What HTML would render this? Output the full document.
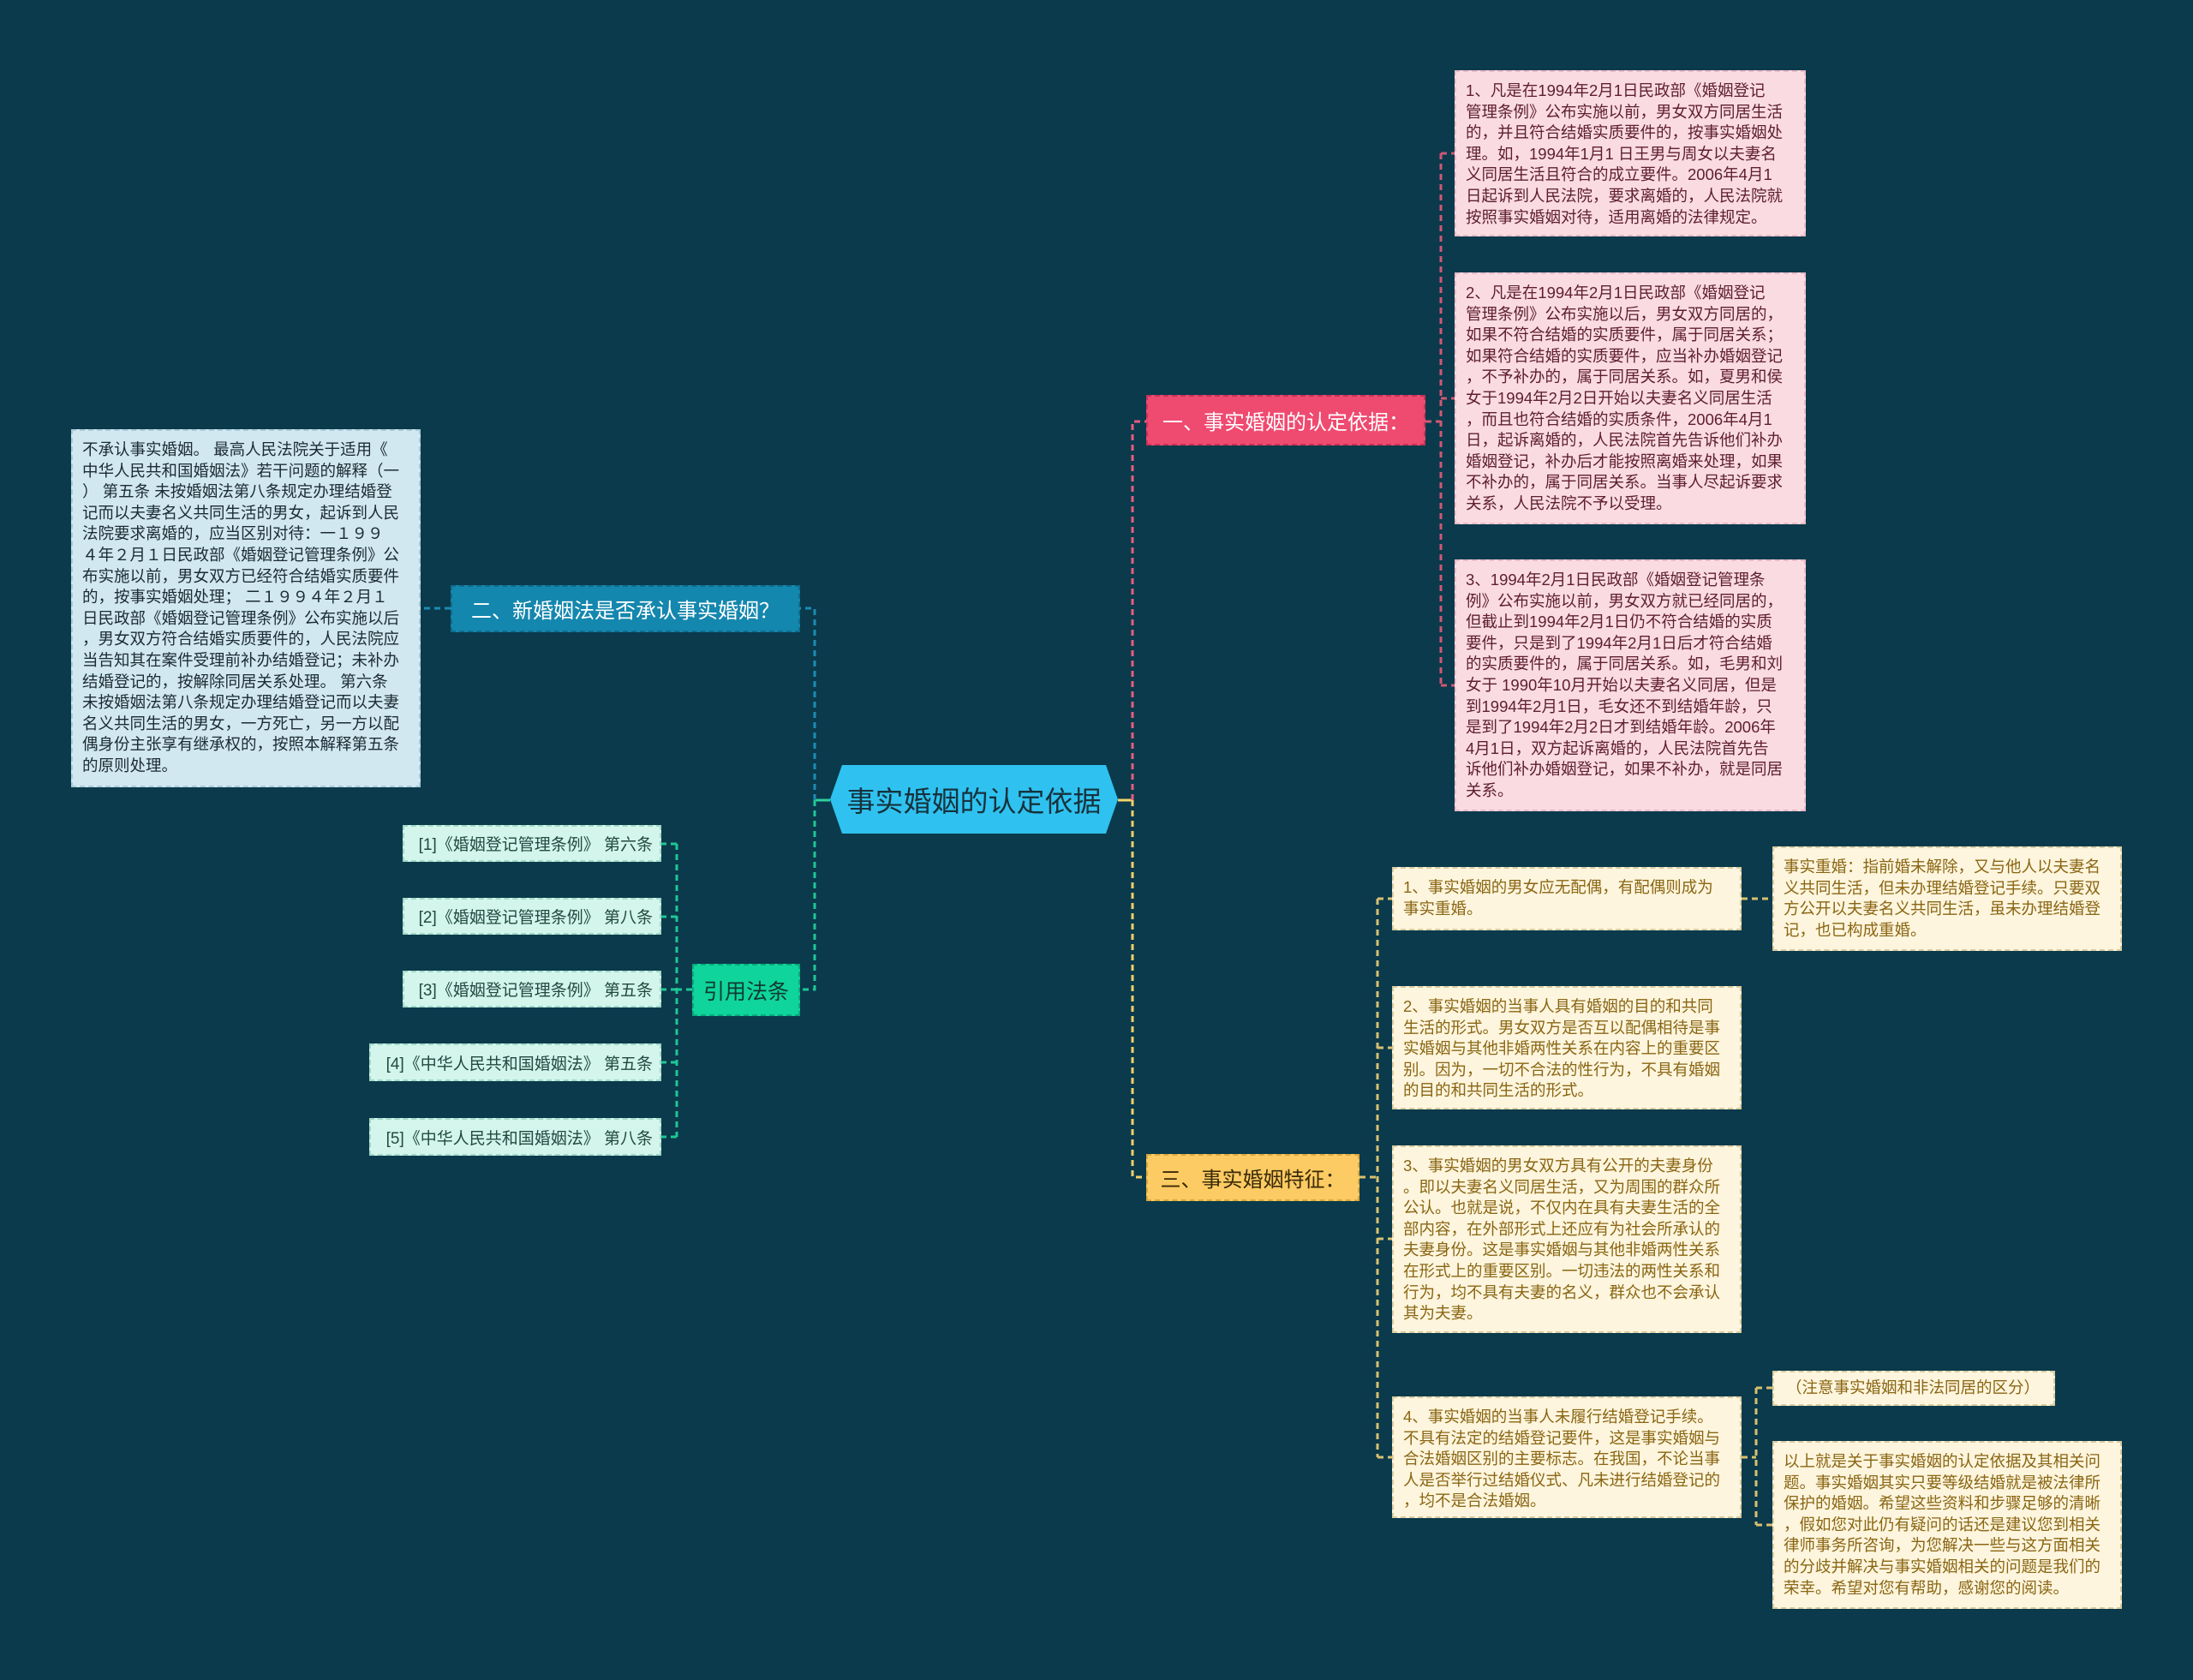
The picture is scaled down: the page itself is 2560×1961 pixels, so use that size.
<!DOCTYPE html>
<html><head><meta charset="utf-8"><style>
html,body{margin:0;padding:0;}
body{width:2560px;height:1961px;background:#0a3a4b;position:relative;overflow:hidden;font-family:"Liberation Sans","Noto Sans CJK SC",sans-serif;}
.b{position:absolute;box-sizing:border-box;white-space:nowrap;}
.t{font-size:18.5px;line-height:24.6px;padding:10px 11px;}
.pk{background:#fadbe2;border:2px dashed #e9b9c6;color:#5e1e30;}
.yl{background:#fdf5dd;border:2px dashed #d9cba0;color:#8a6614;}
.lb{background:#d1e8f0;border:2px dashed #a9cbd8;color:#1c2b33;}
.cg{background:#d3f5ec;border:2px dashed #9fd8c8;color:#234a40;font-size:19px;display:flex;align-items:center;justify-content:flex-end;padding-right:8px;}
.n{display:flex;align-items:center;justify-content:center;font-size:24px;}
</style></head><body>
<svg width="2560" height="1961" style="position:absolute;left:0;top:0" fill="none" stroke-width="3" stroke-dasharray="7,5">
<!-- center right -->
<path d="M1305 934 H1322" stroke="#f5d56a" stroke-dasharray="none"/>
<path d="M1322 934 V492 H1338" stroke="#e85c80"/>
<path d="M1322 934 V1374 H1338" stroke="#f2cf6a"/>
<!-- pink spine -->
<path d="M1664 492 H1682 M1682 179 V800 M1682 179 H1698 M1682 465 H1698 M1682 800 H1698" stroke="#d05775"/>
<!-- yellow spine -->
<path d="M1587 1374 H1608 M1608 1049 V1701 M1608 1049 H1625 M1608 1223 H1625 M1608 1446 H1625 M1608 1701 H1625" stroke="#d8c070"/>
<path d="M2033 1049 H2069" stroke="#d8c070"/>
<path d="M2033 1701 H2050 M2050 1620 V1780 M2050 1620 H2069 M2050 1780 H2069" stroke="#d8c070"/>
<!-- left -->
<path d="M969 934 H951" stroke="#2fcf9e" stroke-dasharray="none"/>
<path d="M951 934 V710 H934" stroke="#1a8db3"/>
<path d="M951 934 V1155 H934" stroke="#1ec795"/>
<path d="M526 710 H491" stroke="#1a8db3"/>
<path d="M808 1155 H790 M790 985 V1327 M790 985 H772 M790 1070 H772 M790 1155 H772 M790 1240 H772 M790 1327 H772" stroke="#1ec795"/>
<polygon points="969,933 983,893 1291,893 1305,933 1291,973 983,973" fill="#2fc2f0" stroke="none"/>
</svg>
<div class="b n" style="left:983px;top:893px;width:308px;height:80px;font-size:33px;color:#16323c;">事实婚姻的认定依据</div>

<div class="b n" style="left:1338px;top:461px;width:326px;height:59px;background:#ef4a70;border:2px dashed #c83258;color:#fff;">一、事实婚姻的认定依据：</div>
<div class="b n" style="left:1338px;top:1347px;width:249px;height:55px;background:#fccb63;border:2px dashed #d9a83d;color:#3a2a08;">三、事实婚姻特征：</div>
<div class="b n" style="left:526px;top:683px;width:408px;height:55px;background:#1487ae;border:2px dashed #0f6c8c;color:#fff;">二、新婚姻法是否承认事实婚姻？</div>
<div class="b n" style="left:808px;top:1125px;width:126px;height:61px;background:#0fd59c;border:2px dashed #0aa87b;color:#0e3a30;font-size:25px;">引用法条</div>

<div class="b t lb" style="left:83px;top:501px;width:408px;height:418px;">不承认事实婚姻。 最高人民法院关于适用《<br>中华人民共和国婚姻法》若干问题的解释（一<br>） 第五条 未按婚姻法第八条规定办理结婚登<br>记而以夫妻名义共同生活的男女，起诉到人民<br>法院要求离婚的，应当区别对待：一１９９<br>４年２月１日民政部《婚姻登记管理条例》公<br>布实施以前，男女双方已经符合结婚实质要件<br>的，按事实婚姻处理； 二１９９４年２月１<br>日民政部《婚姻登记管理条例》公布实施以后<br>，男女双方符合结婚实质要件的，人民法院应<br>当告知其在案件受理前补办结婚登记；未补办<br>结婚登记的，按解除同居关系处理。 第六条<br>未按婚姻法第八条规定办理结婚登记而以夫妻<br>名义共同生活的男女，一方死亡，另一方以配<br>偶身份主张享有继承权的，按照本解释第五条<br>的原则处理。</div>

<div class="b cg" style="left:470px;top:963px;width:302px;height:43px;">[1]《婚姻登记管理条例》 第六条</div>
<div class="b cg" style="left:470px;top:1048px;width:302px;height:43px;">[2]《婚姻登记管理条例》 第八条</div>
<div class="b cg" style="left:470px;top:1133px;width:302px;height:43px;">[3]《婚姻登记管理条例》 第五条</div>
<div class="b cg" style="left:431px;top:1218px;width:341px;height:44px;">[4]《中华人民共和国婚姻法》 第五条</div>
<div class="b cg" style="left:431px;top:1305px;width:341px;height:44px;">[5]《中华人民共和国婚姻法》 第八条</div>

<div class="b t pk" style="left:1698px;top:82px;width:410px;height:194px;">1、凡是在1994年2月1日民政部《婚姻登记<br>管理条例》公布实施以前，男女双方同居生活<br>的，并且符合结婚实质要件的，按事实婚姻处<br>理。如，1994年1月1 日王男与周女以夫妻名<br>义同居生活且符合的成立要件。2006年4月1<br>日起诉到人民法院，要求离婚的，人民法院就<br>按照事实婚姻对待，适用离婚的法律规定。</div>
<div class="b t pk" style="left:1698px;top:318px;width:410px;height:294px;">2、凡是在1994年2月1日民政部《婚姻登记<br>管理条例》公布实施以后，男女双方同居的，<br>如果不符合结婚的实质要件，属于同居关系；<br>如果符合结婚的实质要件，应当补办婚姻登记<br>，不予补办的，属于同居关系。如，夏男和侯<br>女于1994年2月2日开始以夫妻名义同居生活<br>，而且也符合结婚的实质条件，2006年4月1<br>日，起诉离婚的，人民法院首先告诉他们补办<br>婚姻登记，补办后才能按照离婚来处理，如果<br>不补办的，属于同居关系。当事人尽起诉要求<br>关系，人民法院不予以受理。</div>
<div class="b t pk" style="left:1698px;top:653px;width:410px;height:294px;">3、1994年2月1日民政部《婚姻登记管理条<br>例》公布实施以前，男女双方就已经同居的，<br>但截止到1994年2月1日仍不符合结婚的实质<br>要件，只是到了1994年2月1日后才符合结婚<br>的实质要件的，属于同居关系。如，毛男和刘<br>女于 1990年10月开始以夫妻名义同居，但是<br>到1994年2月1日，毛女还不到结婚年龄，只<br>是到了1994年2月2日才到结婚年龄。2006年<br>4月1日，双方起诉离婚的，人民法院首先告<br>诉他们补办婚姻登记，如果不补办，就是同居<br>关系。</div>

<div class="b t yl" style="left:1625px;top:1012px;width:408px;height:74px;">1、事实婚姻的男女应无配偶，有配偶则成为<br>事实重婚。</div>
<div class="b t yl" style="left:2069px;top:988px;width:408px;height:122px;">事实重婚：指前婚未解除，又与他人以夫妻名<br>义共同生活，但未办理结婚登记手续。只要双<br>方公开以夫妻名义共同生活，虽未办理结婚登<br>记，也已构成重婚。</div>
<div class="b t yl" style="left:1625px;top:1151px;width:408px;height:144px;">2、事实婚姻的当事人具有婚姻的目的和共同<br>生活的形式。男女双方是否互以配偶相待是事<br>实婚姻与其他非婚两性关系在内容上的重要区<br>别。因为，一切不合法的性行为，不具有婚姻<br>的目的和共同生活的形式。</div>
<div class="b t yl" style="left:1625px;top:1337px;width:408px;height:219px;">3、事实婚姻的男女双方具有公开的夫妻身份<br>。即以夫妻名义同居生活，又为周围的群众所<br>公认。也就是说，不仅内在具有夫妻生活的全<br>部内容，在外部形式上还应有为社会所承认的<br>夫妻身份。这是事实婚姻与其他非婚两性关系<br>在形式上的重要区别。一切违法的两性关系和<br>行为，均不具有夫妻的名义，群众也不会承认<br>其为夫妻。</div>
<div class="b t yl" style="left:1625px;top:1630px;width:408px;height:142px;">4、事实婚姻的当事人未履行结婚登记手续。<br>不具有法定的结婚登记要件，这是事实婚姻与<br>合法婚姻区别的主要标志。在我国，不论当事<br>人是否举行过结婚仪式、凡未进行结婚登记的<br>，均不是合法婚姻。</div>
<div class="b t yl" style="left:2069px;top:1600px;width:330px;height:41px;padding-top:6px;padding-left:14px;">（注意事实婚姻和非法同居的区分）</div>
<div class="b t yl" style="left:2069px;top:1682px;width:408px;height:196px;">以上就是关于事实婚姻的认定依据及其相关问<br>题。事实婚姻其实只要等级结婚就是被法律所<br>保护的婚姻。希望这些资料和步骤足够的清晰<br>，假如您对此仍有疑问的话还是建议您到相关<br>律师事务所咨询，为您解决一些与这方面相关<br>的分歧并解决与事实婚姻相关的问题是我们的<br>荣幸。希望对您有帮助，感谢您的阅读。</div>
</body></html>
